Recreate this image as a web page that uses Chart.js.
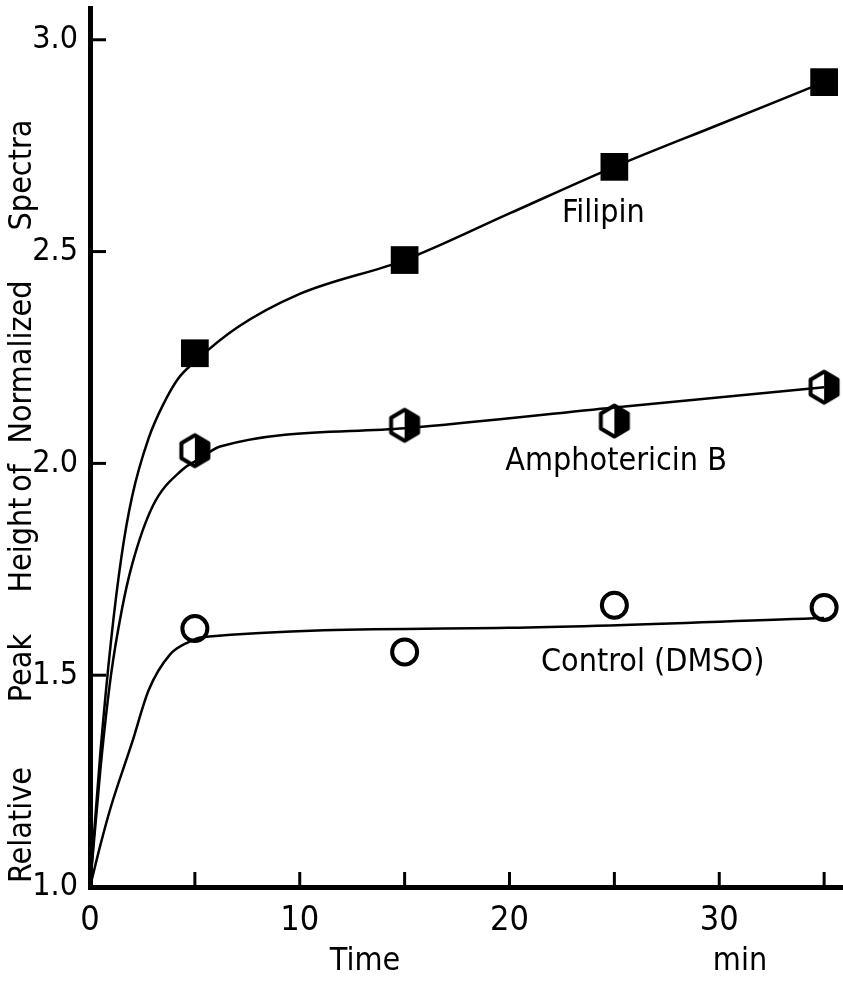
<!DOCTYPE html>
<html>
<head>
<meta charset="utf-8">
<script src="https://cdn.jsdelivr.net/npm/chart.js@4/dist/chart.umd.min.js"></script>
<style>
html, body { margin: 0; padding: 0; background: #fff; }
#wrap { width: 843px; height: 986px; }
</style>
</head>
<body>
<div id="wrap"><canvas id="peakChart" width="843" height="986"></canvas></div>
<script>

// measured points (time in min)
const markTimes = [5, 15, 25, 35]
const filipinVals = [2.26, 2.48, 2.70, 2.90]
const amphoVals = [2.03, 2.09, 2.10, 2.18]
const controlVals = [1.61, 1.555, 1.665, 1.66]

// hand drawn fit curves
const filipinCurveT = [0, 0.5, 1, 1.5, 2, 2.8, 3.5, 4.2, 5, 7, 10, 15, 20, 25, 30, 35]
const filipinCurveV = [1.0, 1.32, 1.58, 1.78, 1.92, 2.06, 2.14, 2.2, 2.24, 2.32, 2.40, 2.48, 2.59, 2.70, 2.80, 2.90]
const amphoCurveT = [0, 0.5, 1, 1.5, 2, 3, 4.4, 5.2, 6.2, 15, 25, 35]
const amphoCurveV = [1.0, 1.28, 1.5, 1.65, 1.76, 1.9, 1.985, 2.01, 2.04, 2.083, 2.132, 2.18]
const controlCurveT = [0, 0.5, 1, 2, 2.8, 3.8, 4.7, 5.4, 20, 35]
const controlCurveV = [1.0, 1.1, 1.19, 1.34, 1.465, 1.548, 1.578, 1.59, 1.612, 1.635]

const xTicks = [0, 5, 10, 15, 20, 25, 30, 35]
const xLabelled = [0, 10, 20, 30]
const yTicks = [1.0, 1.5, 2.0, 2.5, 3.0]

// series names placed next to their curves: [text, time, value]
const seriesNames = [
  ["Filipin", 22.5, 2.59],
  ["Amphotericin B", 19.8, 2.005],
  ["Control (DMSO)", 21.5, 1.53]
]

const yTitleWords = [["Relative", 825], ["Peak", 668], ["Height", 545], ["of", 478], ["Normalized", 362], ["Spectra", 175]]

const FONT = "'DejaVu Sans Condensed', 'DejaVu Sans', sans-serif"

function pts(ts, vs){
  return ts.map((t,i)=>({x:t, y:vs[i]}))
}

// hexagon, right half black
function halfHex(){
  let c = document.createElement("canvas")
  c.width = 38
  c.height = 40
  let g = c.getContext("2d")
  let cx = 19, cy = 20, hw = 13.5, hh = 15.5, sh = 7.5
  g.lineWidth = 4
  g.lineJoin = "round"
  g.fillStyle = "#000"
  g.beginPath()
  g.moveTo(cx, cy-hh)
  g.lineTo(cx+hw, cy-sh)
  g.lineTo(cx+hw, cy+sh)
  g.lineTo(cx, cy+hh)
  g.closePath()
  g.fill()
  g.beginPath()
  g.moveTo(cx, cy-hh)
  g.lineTo(cx+hw, cy-sh)
  g.lineTo(cx+hw, cy+sh)
  g.lineTo(cx, cy+hh)
  g.lineTo(cx-hw, cy+sh)
  g.lineTo(cx-hw, cy-sh)
  g.closePath()
  g.stroke()
  return c
}

function curve(data){
  return {
    data: data,
    showLine: true,
    borderColor: "#000",
    borderWidth: 2.5,
    pointRadius: 0,
    cubicInterpolationMode: "monotone",
    fill: false
  }
}

function marks(data, extra){
  return Object.assign({
    data: data,
    showLine: false,
    borderColor: "#000",
    backgroundColor: "#000"
  }, extra)
}

// inward ticks, axis titles and series names
const decorations = {
  id: "decorations",
  afterDraw(chart){
    let ctx = chart.ctx
    let xs = chart.scales.x, ys = chart.scales.y
    let area = chart.chartArea
    ctx.save()
    ctx.strokeStyle = "#000"
    ctx.lineWidth = 3
    xTicks.forEach(v=>{
      if(v===0) return
      let px = xs.getPixelForValue(v)
      ctx.beginPath()
      ctx.moveTo(px, area.bottom)
      ctx.lineTo(px, area.bottom-15)
      ctx.stroke()
    })
    yTicks.forEach(v=>{
      if(v===1.0) return
      let py = ys.getPixelForValue(v)
      ctx.beginPath()
      ctx.moveTo(area.left, py)
      ctx.lineTo(area.left+16, py)
      ctx.stroke()
    })

    ctx.fillStyle = "#000"
    ctx.font = "32px " + FONT
    ctx.textBaseline = "middle"
    ctx.textAlign = "left"
    seriesNames.forEach(s=>{
      ctx.fillText(s[0], xs.getPixelForValue(s[1]), ys.getPixelForValue(s[2]))
    })

    ctx.textAlign = "center"
    ctx.fillText("Time", 365, 962)
    ctx.fillText("min", 740, 962)

    yTitleWords.forEach(w=>{
      ctx.save()
      ctx.translate(23, w[1])
      ctx.rotate(-Math.PI/2)
      ctx.fillText(w[0], 0, 0)
      ctx.restore()
    })
    ctx.restore()
  }
}

new Chart(document.getElementById("peakChart"), {
  type: "scatter",
  data: {
    datasets: [
      curve(pts(filipinCurveT, filipinCurveV)),
      curve(pts(amphoCurveT, amphoCurveV)),
      curve(pts(controlCurveT, controlCurveV)),
      marks(pts(markTimes, filipinVals), {pointStyle: "rect", pointRadius: 19.6, borderWidth: 0}),
      marks(pts(markTimes, amphoVals), {pointStyle: halfHex(), pointRadius: 18}),
      marks(pts(markTimes, controlVals), {pointStyle: "circle", pointRadius: 12.5, borderWidth: 4, backgroundColor: "#fff"})
    ]
  },
  options: {
    responsive: false,
    animation: false,
    layout: {autoPadding: false, padding: {top: 8, right: 0, left: 0, bottom: 0}},
    plugins: {legend: {display: false}, tooltip: {enabled: false}},
    scales: {
      x: {
        type: "linear",
        min: 0,
        max: 35.9,
        afterFit(scale){
          scale.height = 99
          scale.paddingLeft = 0
          scale.paddingRight = 0
        },
        afterBuildTicks(scale){ scale.ticks = xTicks.map(v=>({value:v})) },
        border: {display: true, width: 5, color: "#000"},
        grid: {display: false, drawTicks: false},
        ticks: {
          padding: 14,
          color: "#000",
          font: {family: FONT, size: 34},
          callback: v => xLabelled.includes(v) ? String(v) : ""
        }
      },
      y: {
        type: "linear",
        min: 1.0,
        max: 3.075,
        afterFit(scale){
          scale.width = 90
          scale.paddingTop = 0
          scale.paddingBottom = 0
        },
        afterBuildTicks(scale){ scale.ticks = yTicks.map(v=>({value:v})) },
        border: {display: true, width: 5, color: "#000"},
        grid: {display: false, drawTicks: false},
        ticks: {
          padding: 12,
          color: "#000",
          font: {family: FONT, size: 32},
          callback: v => v.toFixed(1)
        }
      }
    }
  },
  plugins: [decorations]
})

</script>
</body>
</html>
